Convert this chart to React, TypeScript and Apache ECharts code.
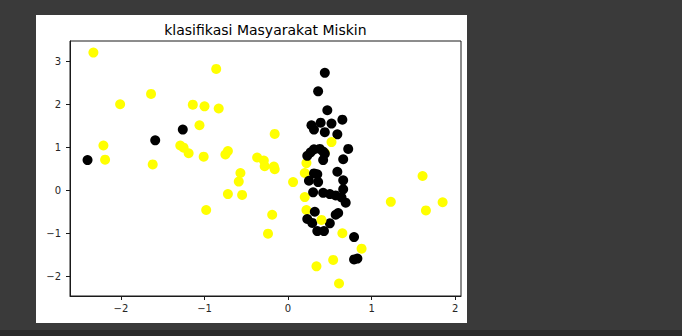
import React, { useEffect, useRef } from "react";
import * as echarts from "echarts";

// Principal-component coordinates of each household, in drawing order,
// with its cluster label (0 = not poor / yellow, 1 = poor / black).
const pcX = [
  -2.33, -0.86, -1.64, -2.01, -1.14, -1.0, -0.83, -1.06, -0.16, -2.21,
  -1.29, -1.25, -1.19, -1.01, -0.72, -0.75, -2.19, -1.62, -0.37, -0.29,
  -0.28, -0.17, -0.16, -0.57, -0.59, 0.06, -0.72, -0.55, -0.98, -0.19,
  -0.24, 0.22, 0.2, 0.2, 0.22, 0.44, 0.65, 0.88, 0.54, 0.34,
  0.61, 1.23, 1.61, 1.65, 1.85,
  -2.4, -1.59, -1.26, 0.44, 0.36, 0.47, 0.65, 0.28, 0.31, 0.39,
  0.52, 0.44, 0.59, 0.72, 0.23, 0.27, 0.31, 0.38, 0.42, 0.44,
  0.42, 0.66, 0.59, 0.66, 0.31, 0.35, 0.25, 0.36, 0.66, 0.3,
  0.42, 0.5, 0.57, 0.64, 0.69, 0.32, 0.6, 0.57, 0.23, 0.29,
  0.5, 0.35, 0.43, 0.79, 0.79, 0.83,
  0.52, 0.4,
];
const pcY = [
  3.2, 2.82, 2.24, 2.0, 1.99, 1.95, 1.9, 1.51, 1.31, 1.04,
  1.04, 0.99, 0.86, 0.78, 0.91, 0.83, 0.71, 0.6, 0.76, 0.69,
  0.56, 0.55, 0.49, 0.4, 0.2, 0.19, -0.09, -0.11, -0.46, -0.57,
  -1.01, 0.63, 0.4, -0.16, -0.46, 0.87, -1.0, -1.36, -1.62, -1.77,
  -2.17, -0.27, 0.33, -0.47, -0.28,
  0.7, 1.16, 1.41, 2.73, 2.3, 1.86, 1.64, 1.51, 1.41, 1.57,
  1.55, 1.35, 1.3, 0.96, 0.8, 0.88, 0.95, 0.96, 0.9, 0.85,
  0.7, 0.72, 0.43, 0.23, 0.39, 0.37, 0.22, 0.19, 0.02, -0.05,
  -0.06, -0.09, -0.12, -0.17, -0.29, -0.5, -0.53, -0.57, -0.67, -0.76,
  -0.77, -0.95, -0.95, -1.09, -1.61, -1.59,
  1.12, -0.69,
];
const cluster = [
  0, 0, 0, 0, 0, 0, 0, 0, 0, 0,
  0, 0, 0, 0, 0, 0, 0, 0, 0, 0,
  0, 0, 0, 0, 0, 0, 0, 0, 0, 0,
  0, 0, 0, 0, 0, 0, 0, 0, 0, 0,
  0, 0, 0, 0, 0,
  1, 1, 1, 1, 1, 1, 1, 1, 1, 1,
  1, 1, 1, 1, 1, 1, 1, 1, 1, 1,
  1, 1, 1, 1, 1, 1, 1, 1, 1, 1,
  1, 1, 1, 1, 1, 1, 1, 1, 1, 1,
  1, 1, 1, 1, 1, 1,
  0, 0,
];

const xTicks = [-2, -1, 0, 1, 2];
const yTicks = [-2, -1, 0, 1, 2, 3];
const chartTitle = "klasifikasi Masyarakat Miskin";

const clusterColors = ["#ffff00", "#000000"];
const FONT = '"DejaVu Sans", sans-serif';
const minusSign = (v: number) => String(v).replace("-", "\u2212");

export default function App() {
  const ref = useRef<HTMLDivElement>(null);

  useEffect(() => {
    if (!ref.current) return;
    const chart = echarts.init(ref.current, undefined, { renderer: "svg" });

    const points = pcX.map((x, i) => ({
      value: [x, pcY[i]],
      itemStyle: { color: clusterColors[cluster[i]], opacity: 1 },
    }));

    const axisLine = { show: true, onZero: false, lineStyle: { color: "#1a1a1a", width: 1 } };
    const tickStyle = { color: "#1a1a1a", width: 1 };
    const labelStyle = { fontFamily: FONT, fontSize: 10, color: "#262626" };

    chart.setOption({
      animation: false,
      backgroundColor: "#3a3a3a",
      graphic: [
        { type: "rect", z: -10, shape: { x: 0, y: 330, width: 682, height: 6 }, style: { fill: "#2b2b2b" } },
        { type: "rect", z: -10, shape: { x: 36, y: 15, width: 431, height: 308 }, style: { fill: "#ffffff" } },
        {
          type: "text",
          x: 265.4,
          y: 30,
          style: {
            text: chartTitle,
            font: `14px ${FONT}`,
            fill: "#000000",
            textAlign: "center",
            textVerticalAlign: "middle",
          },
        },
      ],
      grid: {
        left: 70,
        top: 41,
        width: 391,
        height: 255,
        show: true,
        backgroundColor: "#ffffff",
        borderColor: "#1a1a1a",
        borderWidth: 1,
      },
      xAxis: {
        type: "value",
        min: -2.61,
        max: 2.07,
        splitLine: { show: false },
        axisLine,
        axisTick: { show: true, length: 4, customValues: xTicks, lineStyle: tickStyle },
        axisLabel: { ...labelStyle, margin: 7, customValues: xTicks, formatter: minusSign },
      },
      yAxis: {
        type: "value",
        min: -2.46,
        max: 3.47,
        splitLine: { show: false },
        axisLine,
        axisTick: { show: true, length: 4, customValues: yTicks, lineStyle: tickStyle },
        axisLabel: { ...labelStyle, margin: 9, customValues: yTicks, formatter: minusSign },
      },
      series: [
        {
          type: "scatter",
          symbol: "circle",
          symbolSize: 10,
          itemStyle: { opacity: 1 },
          data: points,
          emphasis: { disabled: true },
        },
      ],
    });

    return () => chart.dispose();
  }, []);

  return (
    <div style={{ position: "fixed", left: 0, top: 0, width: 682, height: 336, background: "#3a3a3a" }}>
      <div ref={ref} style={{ width: 682, height: 336 }} />
    </div>
  );
}
